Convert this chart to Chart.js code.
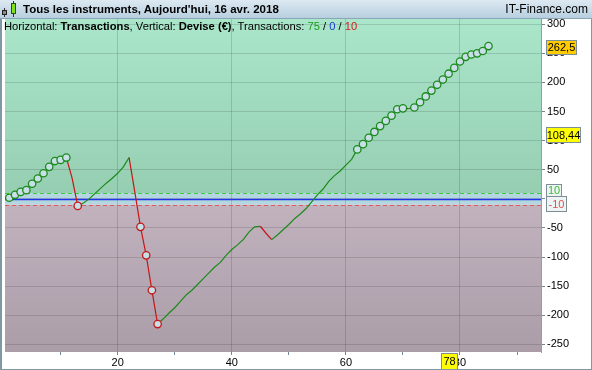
<!DOCTYPE html>
<html>
<head>
<meta charset="utf-8">
<script src="https://cdn.jsdelivr.net/npm/chart.js@4.4.1/dist/chart.umd.min.js"></script>
<style>
body { margin: 0; background: #fff; }
#wrap { position: relative; width: 592px; height: 370px; overflow: hidden; font-family: "Liberation Sans", Arial, sans-serif; }
#chart { position: absolute; left: 0; top: 0; }
#head { position: absolute; left: 0; top: 0; width: 592px; height: 19px; box-sizing: border-box;
  background: linear-gradient(#dde9f2, #b8cfdf); border-bottom: 1px solid #8ba5b6; }
#title { position: absolute; left: 23px; top: 2px; font-weight: bold; font-size: 11.5px; line-height: 14px; color: #000; white-space: nowrap; }
#site { position: absolute; right: 4px; top: 2px; font-size: 12px; line-height: 14px; color: #000; white-space: nowrap; }
#sub { position: absolute; left: 4px; top: 20px; font-size: 11.2px; line-height: 13px; color: #000; white-space: nowrap; }
.ic { position: absolute; box-sizing: border-box; }
</style>
</head>
<body>
<div id="wrap">
  <canvas id="chart" width="592" height="370"></canvas>
  <div id="head">
    <div class="ic" style="left:4px;top:8px;width:1px;height:9px;background:#333"></div>
    <div class="ic" style="left:2px;top:10px;width:5px;height:5px;background:#888;border:1px solid #222"></div>
    <div class="ic" style="left:13px;top:1px;width:1px;height:16px;background:#333"></div>
    <div class="ic" style="left:11px;top:3px;width:5px;height:11px;background:#7ee01e;border:1px solid #2a5010"></div>
    <div id="title">Tous les instruments, Aujourd'hui, 16 avr. 2018</div>
    <div id="site">IT-Finance.com</div>
  </div>
  <div id="sub">Horizontal: <b>Transactions</b>, Vertical: <b>Devise (€)</b>, Transactions: <span style="color:#1a9a1a">75</span> / <span style="color:#1a3ad0">0</span> / <span style="color:#d02020">10</span></div>
</div>
<script>
// cumulative result after each transaction (trade 0 = start)
const equity = [
  0, 2, 7, 12, 15, 26, 35, 44, 55, 65,
  67, 71, 36, -12, -7, 0, 9, 18, 27, 35,
  44, 55, 71, 12, -48, -97, -157, -215, -206, -196,
  -187, -176, -165, -157, -147, -137, -127, -117, -109, -97,
  -87, -79, -70, -57, -48, -47, -59, -70, -62, -53,
  -44, -34, -26, -17, -5, 7, 17, 30, 40, 48,
  58, 68, 85, 94, 105, 115, 125, 134, 143, 154,
  155.5, 155, 157, 166, 176, 186, 196, 205, 215, 225,
  236, 244, 248, 250, 254, 262.5
];
// transactions drawn with a circle marker
const markedTrades = [1, 2, 3, 4, 5, 6, 7, 8, 9, 10, 11, 13, 24, 25, 26, 27,
  62, 63, 64, 65, 66, 67, 68, 69, 70, 72, 73, 74, 75, 76, 77, 78, 79, 80,
  81, 82, 83, 84, 85];
const yTicks = [-250, -200, -150, -100, -50, 0, 50, 100, 150, 200, 250, 300];
const xTicks = [10, 20, 30, 40, 50, 60, 70, 80, 90];
const xLabels = [20, 40, 60, 80];
const upperLevel = 10;
const lowerLevel = -10;
const lastValue = 262.5;
const avgValue = 108.44;
const markedTrade = 78;

const GREEN = '#1c8a1c';
const RED = '#c41818';
const points = equity.map((v, i) => ({ x: i, y: v }));
const isLoss = i => i > 0 && equity[i] < equity[i - 1];

const bgPlugin = {
  id: 'bands',
  beforeDraw(chart) {
    const { ctx, chartArea: a, scales: { y } } = chart;
    const yUp = y.getPixelForValue(upperLevel);
    const yLo = y.getPixelForValue(lowerLevel);
    ctx.save();
    let g = ctx.createLinearGradient(0, a.top, 0, yUp);
    g.addColorStop(0, '#aae6ca');
    g.addColorStop(1, '#96ceb2');
    ctx.fillStyle = g;
    ctx.fillRect(a.left, a.top, a.right - a.left, yUp - a.top);
    ctx.fillStyle = '#b3d6df';
    ctx.fillRect(a.left, yUp, a.right - a.left, yLo - yUp);
    g = ctx.createLinearGradient(0, yLo, 0, a.bottom);
    g.addColorStop(0, '#c1b2be');
    g.addColorStop(1, '#aa9da8');
    ctx.fillStyle = g;
    ctx.fillRect(a.left, yLo, a.right - a.left, a.bottom - yLo);
    ctx.restore();
  },
  beforeDatasetsDraw(chart) {
    const { ctx, chartArea: a, scales: { y } } = chart;
    const line = (v, color, dash, w) => {
      const py = Math.round(y.getPixelForValue(v)) + 0.5;
      ctx.beginPath();
      ctx.setLineDash(dash);
      ctx.strokeStyle = color;
      ctx.lineWidth = w;
      ctx.moveTo(a.left, py);
      ctx.lineTo(a.right, py);
      ctx.stroke();
    };
    ctx.save();
    line(upperLevel, '#3ccc3c', [4, 3], 1);
    line(lowerLevel, '#e05a5a', [4, 3], 1);
    line(0, '#2234e6', [], 1.4);
    ctx.restore();
  },
  afterDraw(chart) {
    const { ctx, chartArea: a, scales: { x, y } } = chart;
    ctx.save();
    ctx.font = '11px "Liberation Sans", Arial, sans-serif';
    ctx.textBaseline = 'middle';
    const box = (text, left, cy, w, h, fill, color) => {
      const top = Math.round(cy - h / 2);
      ctx.fillStyle = fill;
      ctx.fillRect(left, top, w, h);
      ctx.strokeStyle = '#7e8e96';
      ctx.lineWidth = 1;
      ctx.strokeRect(left + 0.5, top + 0.5, w - 1, h - 1);
      ctx.fillStyle = color;
      ctx.textAlign = 'center';
      ctx.fillText(text, left + w / 2, top + h / 2 + 0.5);
    };
    box(String(lastValue).replace('.', ','), 546, y.getPixelForValue(lastValue) + 1, 31, 15, '#ffcc00', '#000');
    box(String(avgValue).replace('.', ','), 546, y.getPixelForValue(avgValue) - 1, 35, 16, '#ffff00', '#000');
    box(String(upperLevel), 546, y.getPixelForValue(upperLevel) - 3, 16, 13, '#eef3f3', '#38c038');
    box(String(lowerLevel), 546, y.getPixelForValue(lowerLevel) - 1, 21, 16, '#eef3f3', '#e05050');
    const mx = Math.round(x.getPixelForValue(markedTrade));
    box(String(markedTrade), mx - 8, a.bottom + 9, 17, 17, '#ffff00', '#000');
    // outer frame
    ctx.fillStyle = '#7f99a4';
    ctx.fillRect(0, a.top, 2, 370 - a.top);
    ctx.fillRect(0, 369, 592, 1);
    ctx.fillRect(591, a.top, 1, 370 - a.top);
    ctx.restore();
  }
};

new Chart(document.getElementById('chart'), {
  type: 'line',
  data: {
    datasets: [{
      data: points,
      borderWidth: 1.2,
      borderColor: GREEN,
      segment: {
        borderColor: c => c.p1.parsed.y < c.p0.parsed.y ? RED : GREEN
      },
      pointRadius: c => markedTrades.includes(c.dataIndex) ? 3.7 : 0,
      pointHoverRadius: 0,
      pointBorderWidth: 1.3,
      pointBackgroundColor: '#c7dfe6',
      pointBorderColor: c => isLoss(c.dataIndex) ? RED : GREEN,
      tension: 0
    }]
  },
  options: {
    responsive: false,
    animation: false,
    events: [],
    layout: { padding: { top: 19, left: 2, right: 0, bottom: 0 } },
    plugins: { legend: { display: false }, tooltip: { enabled: false } },
    scales: {
      x: {
        type: 'linear',
        min: 0.25,
        max: 94.2,
        afterBuildTicks: s => { s.ticks = xTicks.map(v => ({ value: v })); },
        afterFit: s => { s.height = 18; },
        grid: {
          color: c => c.tick && xLabels.includes(c.tick.value) ? 'rgba(0,0,0,0.14)' : 'transparent',
          tickColor: '#6e8894',
          tickLength: 3
        },
        border: { display: false },
        ticks: {
          autoSkip: false,
          maxRotation: 0,
          padding: 1,
          color: '#000',
          font: { family: '"Liberation Sans", Arial, sans-serif', size: 11 },
          callback: v => xLabels.includes(v) ? String(v) : ''
        }
      },
      y: {
        position: 'right',
        min: -263,
        max: 309,
        afterBuildTicks: s => { s.ticks = yTicks.map(v => ({ value: v })); },
        afterFit: s => { s.width = 51; },
        grid: { color: 'rgba(0,0,0,0.13)', tickColor: '#6e8894', tickLength: 4 },
        border: { display: true, color: '#8aa2ac', width: 1 },
        ticks: {
          padding: 2,
          color: '#000',
          font: { family: '"Liberation Sans", Arial, sans-serif', size: 11 }
        }
      }
    }
  },
  plugins: [bgPlugin]
});
</script>
</body>
</html>
